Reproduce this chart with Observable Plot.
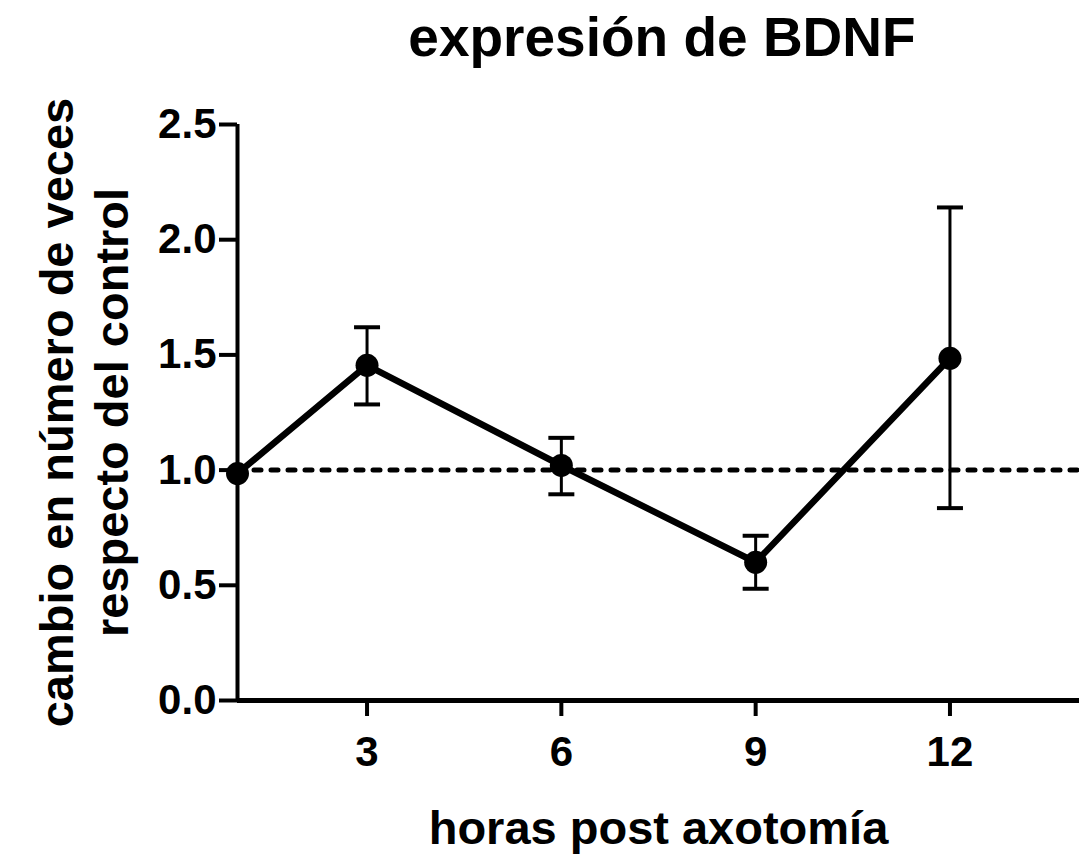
<!DOCTYPE html>
<html>
<head>
<meta charset="utf-8">
<script src="https://cdn.jsdelivr.net/npm/d3@7"></script>
<script src="https://cdn.jsdelivr.net/npm/@observablehq/plot@0.6"></script>
<style>
  html, body { margin: 0; padding: 0; background: #fff; }
  #fig { position: relative; width: 1079px; height: 860px; font-family: "Liberation Sans", Arial, sans-serif; }
  #title {
    position: absolute; top: 10px; left: 0; width: 1079px; padding-left: 245px; box-sizing: border-box;
    text-align: center; font-size: 55px; line-height: 55px; font-weight: bold; color: #000;
  }
  #chart { position: absolute; top: 80px; left: 0; }
</style>
</head>
<body>
<div id="fig">
  <div id="title">expresión de BDNF</div>
  <div id="chart"></div>
</div>
<script>
// Hours after axotomy and BDNF fold change relative to control (mean ± SEM)
const hours = [1, 3, 6, 9, 12];
const foldChange = [0.985, 1.455, 1.02, 0.60, 1.485];
const upperBound = [null, 1.62, 1.14, 0.715, 2.14];
const lowerBound = [null, 1.285, 0.895, 0.485, 0.835];

const xTicks = [3, 6, 9, 12];
const yTicks = [0, 0.5, 1.0, 1.5, 2.0, 2.5];
const controlLevel = 1.0;

const xTitle = "horas post axotomía";
const yTitle = "cambio en número de veces\nrespecto del control";

const rows = hours.map((h, i) => ({hour: h, mean: foldChange[i], hi: upperBound[i], lo: lowerBound[i]}));
const withErr = rows.filter(d => d.hi != null);

// horizontal cap drawn as a dot symbol so its width stays in pixels
const capSymbol = {
  draw(ctx, size) {
    const w = Math.sqrt(size / Math.PI);
    ctx.moveTo(-w, 0);
    ctx.lineTo(w, 0);
  }
};

const chart = Plot.plot({
  width: 1079,
  height: 780,
  marginTop: 44,
  marginBottom: 160,
  marginLeft: 237,
  marginRight: 0,
  style: {fontFamily: "'Liberation Sans', Arial, sans-serif", fontWeight: "bold", color: "#000", background: "#fff", overflow: "visible"},
  x: {domain: [1, 14]},
  y: {domain: [0, 2.5]},
  marks: [
    Plot.axisY({ticks: yTicks, tickFormat: d3.format(".1f"), tickSize: 18, tickPadding: 3, strokeWidth: 4, fontSize: 42, fontWeight: "bold", label: null}),
    Plot.axisX({ticks: xTicks, tickFormat: d => String(d), tickSize: 16, tickPadding: 20, strokeWidth: 4, fontSize: 42, fontWeight: "bold", label: null}),
    Plot.ruleX([1], {y1: 0, y2: 2.5, strokeWidth: 4}),
    Plot.ruleY([0], {x1: 1, x2: 14, strokeWidth: 5}),
    Plot.ruleY([controlLevel], {x1: 1, x2: 14, strokeWidth: 5, strokeDasharray: "7,10", strokeLinecap: "round"}),
    Plot.ruleX(withErr, {x: "hour", y1: "lo", y2: "hi", strokeWidth: 3}),
    Plot.dot(withErr, {x: "hour", y: "hi", symbol: capSymbol, r: 13, stroke: "#000", strokeWidth: 4, fill: "none"}),
    Plot.dot(withErr, {x: "hour", y: "lo", symbol: capSymbol, r: 13, stroke: "#000", strokeWidth: 4, fill: "none"}),
    Plot.line(rows, {x: "hour", y: "mean", strokeWidth: 6.5, stroke: "#000"}),
    Plot.dot(rows, {x: "hour", y: "mean", r: 11.5, fill: "#000", stroke: "none"}),
    Plot.text([xTitle], {frameAnchor: "bottom", dy: 143, lineAnchor: "bottom", fontSize: 47, fontWeight: "bold"}),
    Plot.text([yTitle], {frameAnchor: "left", dx: -155, rotate: -90, textAnchor: "middle", lineAnchor: "middle", lineHeight: 1.17, fontSize: 47, fontWeight: "bold"})
  ]
});
document.getElementById("chart").appendChild(chart);
</script>
</body>
</html>
